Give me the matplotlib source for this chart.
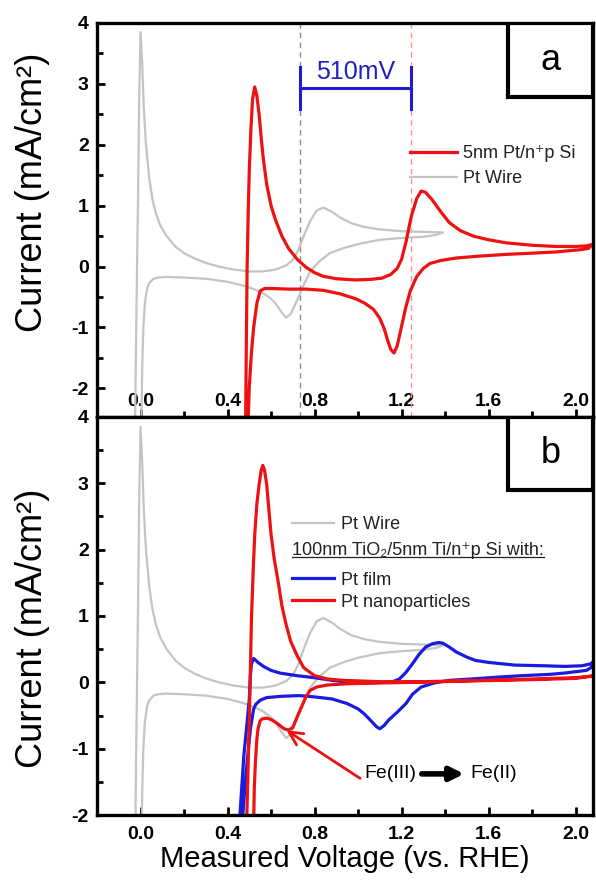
import matplotlib
matplotlib.use("Agg")
import matplotlib.pyplot as plt
import matplotlib.patches as mpatch
from matplotlib.lines import Line2D
from matplotlib.ticker import MultipleLocator, FormatStrFormatter

plt.rcParams['font.family'] = ['Liberation Sans', 'DejaVu Sans']
plt.rcParams['axes.unicode_minus'] = False

# ---- data (V vs RHE, mA/cm^2) ----
# Pt wire CV (same trace in both panels)
wire_v = [-0.025, -0.02, -0.012, -0.006, 0.0, 0.008, 0.015, 0.025, 0.04, 0.055,
          0.07, 0.09, 0.12, 0.16, 0.2, 0.25, 0.3, 0.36, 0.43, 0.5,
          0.56, 0.62, 0.67, 0.7, 0.725, 0.75, 0.78, 0.81, 0.84, 0.88, 0.92,
          0.97, 1.03, 1.1, 1.2, 1.3, 1.39,
          1.36, 1.3, 1.2, 1.1, 1.0, 0.93, 0.87, 0.82, 0.78, 0.75,
          0.72, 0.69, 0.67, 0.65, 0.62, 0.59, 0.56, 0.52, 0.48, 0.4,
          0.3, 0.2, 0.12, 0.08, 0.06, 0.04, 0.03, 0.02, 0.013, 0.008, 0.004]
wire_i = [-2.6, -1.0, 1.0, 2.8, 3.85, 3.3, 2.6, 2.0, 1.45, 1.1,
          0.88, 0.68, 0.5, 0.33, 0.22, 0.13, 0.06, 0.0, -0.05, -0.08,
          -0.08, -0.05, 0.02, 0.11, 0.27, 0.5, 0.75, 0.92, 0.97, 0.9, 0.8,
          0.71, 0.65, 0.61, 0.58, 0.57, 0.56,
          0.52, 0.49, 0.47, 0.44, 0.37, 0.3, 0.22, 0.08, -0.08, -0.3,
          -0.55, -0.78, -0.84, -0.76, -0.6, -0.5, -0.43, -0.37, -0.32, -0.25,
          -0.2, -0.18, -0.17, -0.18, -0.2, -0.27, -0.36, -0.6, -1.0, -1.6, -2.6]

# 5nm Pt/n+p Si (panel a)
pt_v = [0.483, 0.487, 0.49, 0.495, 0.5, 0.508, 0.515, 0.525, 0.535, 0.545,
        0.555, 0.565, 0.58, 0.6, 0.62, 0.65, 0.68, 0.72, 0.76, 0.8,
        0.84, 0.9, 0.99, 1.06, 1.11, 1.15, 1.18, 1.2, 1.22, 1.245,
        1.27, 1.29, 1.31, 1.34, 1.38, 1.42, 1.47, 1.53, 1.6, 1.68,
        1.8, 1.91, 2.0, 2.05, 2.075,
        2.06, 2.03, 1.91, 1.8, 1.68, 1.55, 1.45, 1.38, 1.33, 1.3,
        1.27, 1.24, 1.22, 1.2, 1.18, 1.165, 1.15, 1.135, 1.12, 1.1,
        1.07, 1.03, 0.99, 0.92, 0.84, 0.76, 0.68, 0.6, 0.57, 0.55,
        0.535, 0.52, 0.51, 0.5, 0.494]
pt_i = [-2.6, -1.0, 0.0, 0.9, 1.6, 2.3, 2.75, 2.95, 2.8, 2.5,
        2.1, 1.75, 1.35, 1.0, 0.77, 0.5, 0.3, 0.12, -0.01, -0.1,
        -0.16, -0.2, -0.22, -0.21, -0.19, -0.13, -0.03, 0.12, 0.4, 0.83,
        1.12, 1.24, 1.22, 1.1, 0.9, 0.72, 0.59, 0.5, 0.44, 0.39,
        0.35, 0.33, 0.33, 0.34, 0.36,
        0.3, 0.28, 0.24, 0.22, 0.2, 0.17, 0.14, 0.1, 0.05, -0.03,
        -0.16, -0.4, -0.66, -0.98, -1.3, -1.42, -1.36, -1.2, -1.02, -0.85,
        -0.7, -0.6, -0.53, -0.45, -0.39, -0.37, -0.37, -0.36, -0.36, -0.4,
        -0.6, -1.0, -1.4, -1.97, -2.6]

# TiO2-protected, Pt film (panel b)
film_v = [0.455, 0.465, 0.475, 0.49, 0.5, 0.505, 0.51, 0.52, 0.54, 0.565,
          0.6, 0.64, 0.72, 0.8, 0.88, 0.96, 1.05, 1.11, 1.16, 1.19,
          1.22, 1.25, 1.28, 1.31, 1.34, 1.37, 1.39, 1.42, 1.45, 1.5,
          1.54, 1.6, 1.72, 1.85, 1.95, 2.03, 2.07, 2.09,
          2.07, 2.05, 1.95, 1.88, 1.75, 1.65, 1.52, 1.42, 1.35, 1.29,
          1.25, 1.22, 1.18, 1.14, 1.12, 1.1, 1.085, 1.065, 1.03, 1.0,
          0.95, 0.88, 0.8, 0.73, 0.65, 0.58, 0.55, 0.53, 0.52, 0.505,
          0.49, 0.48, 0.468]
film_i = [-2.1, -1.6, -1.1, -0.6, -0.25, 0.1, 0.28, 0.36, 0.3, 0.24,
          0.18, 0.14, 0.1, 0.07, 0.03, 0.0, -0.01, 0.0, 0.01, 0.05,
          0.15, 0.28, 0.42, 0.53, 0.58, 0.6, 0.59, 0.53, 0.46, 0.38,
          0.33, 0.3, 0.26, 0.25, 0.24, 0.25, 0.28, 0.34,
          0.22, 0.18, 0.14, 0.12, 0.1, 0.08, 0.05, 0.03, -0.01, -0.07,
          -0.18, -0.32, -0.45, -0.57, -0.65, -0.7, -0.67, -0.6, -0.48, -0.4,
          -0.32, -0.25, -0.22, -0.2, -0.21, -0.23, -0.27, -0.33, -0.4, -0.7,
          -1.2, -1.56, -2.1]

# TiO2-protected, Pt nanoparticles (panel b)
np_v = [0.488, 0.495, 0.5, 0.505, 0.51, 0.518, 0.525, 0.535, 0.545, 0.555,
        0.562, 0.57, 0.58, 0.59, 0.6, 0.615, 0.635, 0.65, 0.67, 0.69,
        0.72, 0.75, 0.8, 0.86, 0.93, 1.1, 1.3, 1.57, 1.8, 2.0, 2.09,
        2.0, 1.8, 1.5, 1.26, 1.1, 0.96, 0.86, 0.81, 0.78, 0.76,
        0.74, 0.72, 0.7, 0.68, 0.66, 0.64, 0.62, 0.6, 0.58, 0.56,
        0.55, 0.54, 0.535, 0.528, 0.523, 0.52]
np_i = [-2.1, -1.2, -0.55, 0.2, 0.97, 1.7, 2.23, 2.7, 2.98, 3.2,
        3.27, 3.2, 2.98, 2.6, 2.23, 1.85, 1.47, 1.15, 0.86, 0.62,
        0.4, 0.22, 0.1, 0.05, 0.03, 0.01, 0.01, 0.03, 0.05, 0.07, 0.1,
        0.06, 0.04, 0.02, 0.0, -0.01, -0.02, -0.04, -0.07, -0.12, -0.22,
        -0.37, -0.52, -0.68, -0.72, -0.7, -0.65, -0.6, -0.56, -0.54, -0.55,
        -0.58, -0.7, -0.85, -1.2, -1.6, -2.1]

onset_v = [0.735, 1.245]  # onset of Fe(III) reduction: Pt wire vs Pt/n+p Si

GRAY = '#c4c4c4'
RED = '#ee1111'
BLUE = '#1a1ae0'
TXT = '#222222'

fig = plt.figure(figsize=(5.96, 8.81), dpi=100)
ax_a = fig.add_axes([0.1628, 0.5267, 0.8322, 0.4472])
ax_b = fig.add_axes([0.1628, 0.0749, 0.8322, 0.4518])

for ax in (ax_a, ax_b):
    ax.set_xlim(-0.2, 2.08)
    ax.xaxis.set_major_locator(MultipleLocator(0.4))
    ax.xaxis.set_minor_locator(MultipleLocator(0.2))
    ax.xaxis.set_major_formatter(FormatStrFormatter('%.1f'))
    ax.yaxis.set_major_locator(MultipleLocator(1))
    ax.yaxis.set_minor_locator(MultipleLocator(0.5))
    ax.tick_params(which='both', direction='in', top=False, right=False)
    ax.tick_params(which='major', length=6, width=2)
    ax.tick_params(which='minor', length=4, width=2)
    ax.tick_params(axis='y', labelsize=14, pad=6)
    ax.tick_params(axis='x', labelsize=14)
    for lab in ax.get_xticklabels() + ax.get_yticklabels():
        lab.set_fontweight('bold')
    for sp in ax.spines.values():
        sp.set_linewidth(2.4)
    ax.set_ylabel('Current (mA/cm²)', fontsize=26)

# ---- panel a ----
ax_a.set_ylim(-2.47, 4)
ax_a.tick_params(axis='x', pad=-17)
ax_a.yaxis.set_label_coords(-0.095, 0.57)
ax_a.axvline(onset_v[0], color='#8c8c8c', lw=1, ls=(0, (4, 3)))
ax_a.axvline(onset_v[1], color='#ff9090', lw=1, ls=(0, (4, 3)))
ax_a.plot(wire_v, wire_i, color=GRAY, lw=1.6, label='Pt Wire')
ax_a.plot(pt_v, pt_i, color=RED, lw=2.3, label='5nm Pt/n⁺p Si')

# 510 mV bracket
ax_a.plot(onset_v, [2.93, 2.93], color='#1c1cd0', lw=2.2)
for v in onset_v:
    ax_a.plot([v, v], [2.59, 3.28], color='#1c1cd0', lw=2.2)
ax_a.text(sum(onset_v) / 2, 3.2, '510mV', color='#2020c0', fontsize=18,
          ha='center', va='center')

h_a, l_a = ax_a.get_legend_handles_labels()
ax_a.legend(h_a[::-1], l_a[::-1], loc='upper left', bbox_to_anchor=(0.688, 0.835),
            bbox_transform=fig.transFigure, frameon=False, fontsize=13,
            handlelength=2.6, handletextpad=0.35, labelspacing=0.45,
            borderpad=0, borderaxespad=0, labelcolor=TXT)

ax_a.add_patch(mpatch.Rectangle((0.829, 0.812), 0.171, 0.188, transform=ax_a.transAxes,
                                facecolor='white', edgecolor='black', lw=3, zorder=5))
ax_a.text(0.914, 0.906, 'a', transform=ax_a.transAxes, ha='center', va='center',
          fontsize=26, zorder=6)

# ---- panel b ----
ax_b.set_ylim(-2, 4)
ax_b.tick_params(axis='x', pad=8)
ax_b.yaxis.set_label_coords(-0.095, 0.47)
ax_b.set_xlabel('Measured Voltage (vs. RHE)', fontsize=21, labelpad=1)
w_line, = ax_b.plot(wire_v, wire_i, color=GRAY, lw=1.6, label='Pt Wire')
f_line, = ax_b.plot(film_v, film_i, color=BLUE, lw=2.3, label='Pt film')
n_line, = ax_b.plot(np_v, np_i, color=RED, lw=2.3, label='Pt nanoparticles')

leg1 = ax_b.legend([w_line], ['Pt Wire'], loc='upper left', bbox_to_anchor=(0.49, 0.4145),
                   bbox_transform=fig.transFigure, frameon=False, fontsize=13,
                   handlelength=2.3, handletextpad=0.4, borderpad=0, borderaxespad=0,
                   labelcolor=TXT)
ax_b.add_artist(leg1)
ax_b.legend([f_line, n_line], ['Pt film', 'Pt nanoparticles'], loc='upper left',
            bbox_to_anchor=(0.49, 0.351), bbox_transform=fig.transFigure,
            frameon=False, fontsize=13, handlelength=2.3, handletextpad=0.4,
            labelspacing=0.27, borderpad=0, borderaxespad=0, labelcolor=TXT)
header = fig.text(0.49, 0.3757, '100nm TiO₂/5nm Ti/n⁺p Si with:', fontsize=13,
                  color=TXT, ha='left', va='center')

ax_b.annotate('', xy=(0.66, -0.70), xytext=(1.02, -1.47),
              arrowprops=dict(arrowstyle='->', color=RED, lw=2, mutation_scale=24))
ax_b.text(1.03, -1.38, 'Fe(III)', fontsize=14, ha='left', va='center')
ax_b.annotate('', xy=(1.50, -1.38), xytext=(1.28, -1.38),
              arrowprops=dict(arrowstyle='-|>', color='black', lw=4, mutation_scale=20))
ax_b.text(1.515, -1.38, 'Fe(II)', fontsize=14, ha='left', va='center')

ax_b.add_patch(mpatch.Rectangle((0.829, 0.817), 0.171, 0.183, transform=ax_b.transAxes,
                                facecolor='white', edgecolor='black', lw=3, zorder=5))
ax_b.text(0.914, 0.908, 'b', transform=ax_b.transAxes, ha='center', va='center',
          fontsize=26, zorder=6)

# underline the legend header
fig.canvas.draw()
bb = header.get_window_extent(fig.canvas.get_renderer())
bb = bb.transformed(fig.transFigure.inverted())
fig.add_artist(Line2D([bb.x0, bb.x1], [bb.y0 + 0.002, bb.y0 + 0.002], color=TXT,
                      lw=0.9, transform=fig.transFigure))

fig.savefig('out.png', dpi=100)
